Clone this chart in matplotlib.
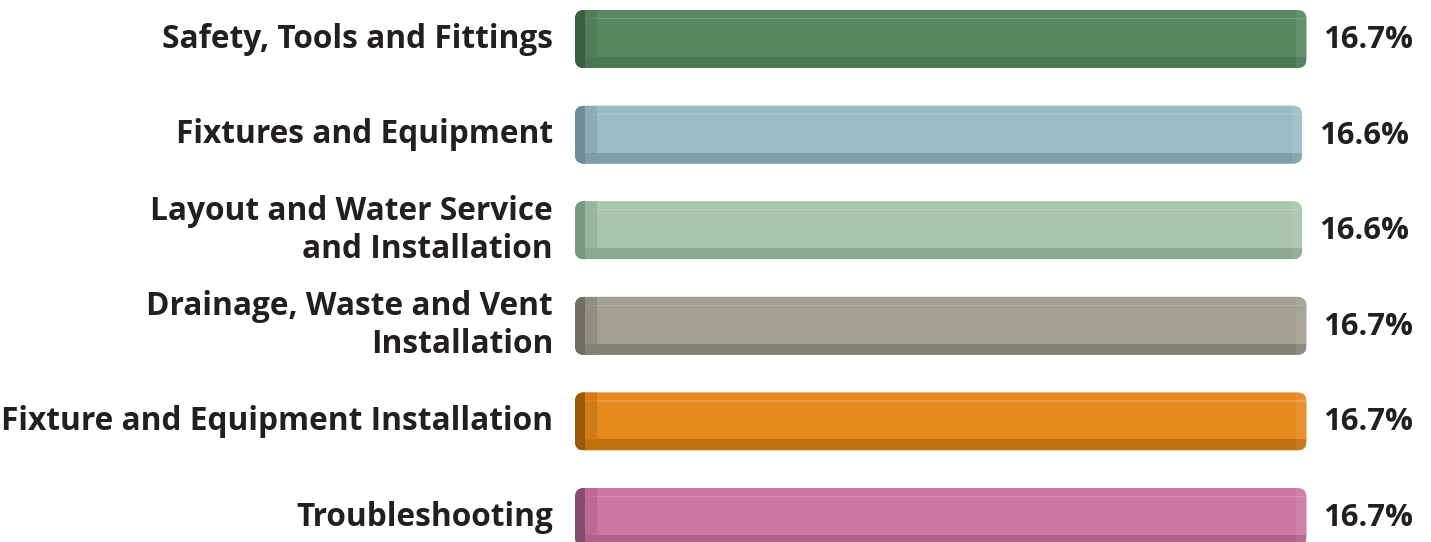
import matplotlib.pyplot as plt
from matplotlib.patches import FancyBboxPatch, Rectangle

# data
categories = ["Safety, Tools and Fittings",
              "Fixtures and Equipment",
              "Layout and Water Service\nand Installation",
              "Drainage, Waste and Vent\nInstallation",
              "Fixture and Equipment Installation",
              "Troubleshooting"]
values = [16.7, 16.6, 16.6, 16.7, 16.7, 16.7]
value_labels = ["16.7%", "16.6%", "16.6%", "16.7%", "16.7%", "16.7%"]

# face, bottom strip, left cap
face_colors = ["#57885f", "#9bbcc6", "#a9c5ab", "#a19f91", "#e5891d", "#cd75a5"]
bottom_colors = ["#4b7854", "#7f9ea8", "#8ca98e", "#828175", "#c0700f", "#b15f8b"]
cap_colors = ["#36603f", "#6d8d98", "#7b977e", "#6f6e63", "#9a5a08", "#874b6d"]

W, H = 1431, 542
fig = plt.figure(figsize=(W / 100, H / 100), dpi=100)
x0_px = 575
px_x = 43.8   # pixels per percent
px_y = 95.6   # pixels per category
ax = fig.add_axes([x0_px / W, 0, (W - x0_px) / W, 1])
ax.set_xlim(0, (W - x0_px) / px_x)
ax.set_ylim((H - 39) / px_y, -39 / px_y)
ax.axis("off")

bh = 58 / px_y
bars = ax.barh(range(len(values)), values, height=bh, color=face_colors, zorder=1)

def dx(p):
    return p / px_x

def dy(p):
    return p / px_y

for i, (b, v) in enumerate(zip(bars, values)):
    b.set_visible(False)
    top = i - bh / 2
    outer = FancyBboxPatch((0, top), v, bh,
                           boxstyle="round,pad=0,rounding_size=%f" % dx(9),
                           mutation_aspect=px_x / px_y,
                           facecolor=face_colors[i], edgecolor="none", zorder=2)
    ax.add_patch(outer)
    parts = [
        # bottom strip
        Rectangle((0, top + bh - dy(11)), v, dy(11), facecolor=bottom_colors[i], zorder=3),
        # top highlight line
        Rectangle((0, top + dy(8)), v, dy(1.2), facecolor="white", alpha=0.18, zorder=3),
        # left bevel
        Rectangle((0, top), dx(22), bh, facecolor=bottom_colors[i], alpha=0.55, zorder=4),
        # left cap
        Rectangle((0, top), dx(10), bh, facecolor=cap_colors[i], zorder=5),
        # right bevel
        Rectangle((v - dx(10), top), dx(10), bh, facecolor="white", alpha=0.08, zorder=4),
    ]
    for p in parts:
        p.set_edgecolor("none")
        ax.add_patch(p)
        p.set_clip_path(outer)

    ax.text(-dx(22), i, categories[i], ha="right", va="center", fontsize=22.8,
            fontweight="bold", family="Open Sans", color="#231f20",
            linespacing=1.2)
    ax.text(v + dx(17), i + dy(1), value_labels[i], ha="left", va="center",
            fontsize=22.3, fontweight="bold", family="Open Sans", color="#231f20")

fig.savefig("out.png", dpi=100)
